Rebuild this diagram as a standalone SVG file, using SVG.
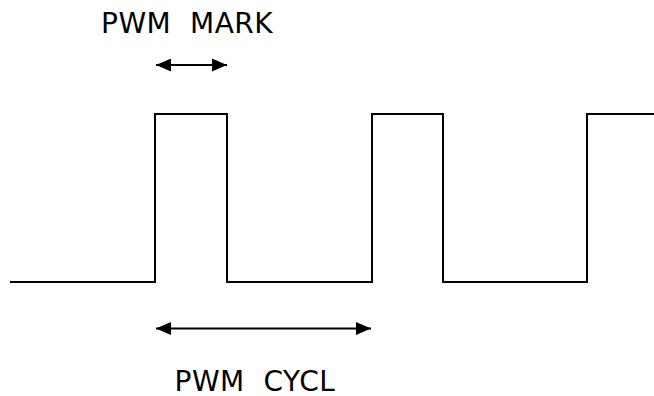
<svg xmlns="http://www.w3.org/2000/svg" width="654" height="396" viewBox="0 0 654 396">
<style>
.lbl{font-family:"DejaVu Sans","Verdana",sans-serif;font-size:28px;fill:#000;letter-spacing:0.5px}
.wave{fill:none;stroke:#000;stroke-width:2;stroke-linejoin:miter}
.arr{stroke:#000;stroke-width:2}
</style>
<defs>
<marker id="ah" markerWidth="15" markerHeight="13" refX="15" refY="6.5" orient="auto-start-reverse" markerUnits="userSpaceOnUse">
<path d="M0,0 L15,6.5 L0,13 Z" fill="#000"/>
</marker>
</defs>
<g id="waveform">
<path class="wave" d="M10,282 H155 V114 H227 V282 H372 V114 H443 V282 H587 V114 H654"/>
</g>
<g id="connectors">
<line class="arr" x1="156" y1="65" x2="227" y2="65" marker-start="url(#ah)" marker-end="url(#ah)"/>
<line class="arr" x1="156" y1="328.5" x2="371" y2="328.5" marker-start="url(#ah)" marker-end="url(#ah)"/>
</g>
<g id="label-mark">
<text class="lbl" x="101" y="33" xml:space="preserve">PWM  MARK</text>
</g>
<g id="label-cycl">
<text class="lbl" x="174.5" y="391" xml:space="preserve">PWM  CYCL</text>
</g>
</svg>
